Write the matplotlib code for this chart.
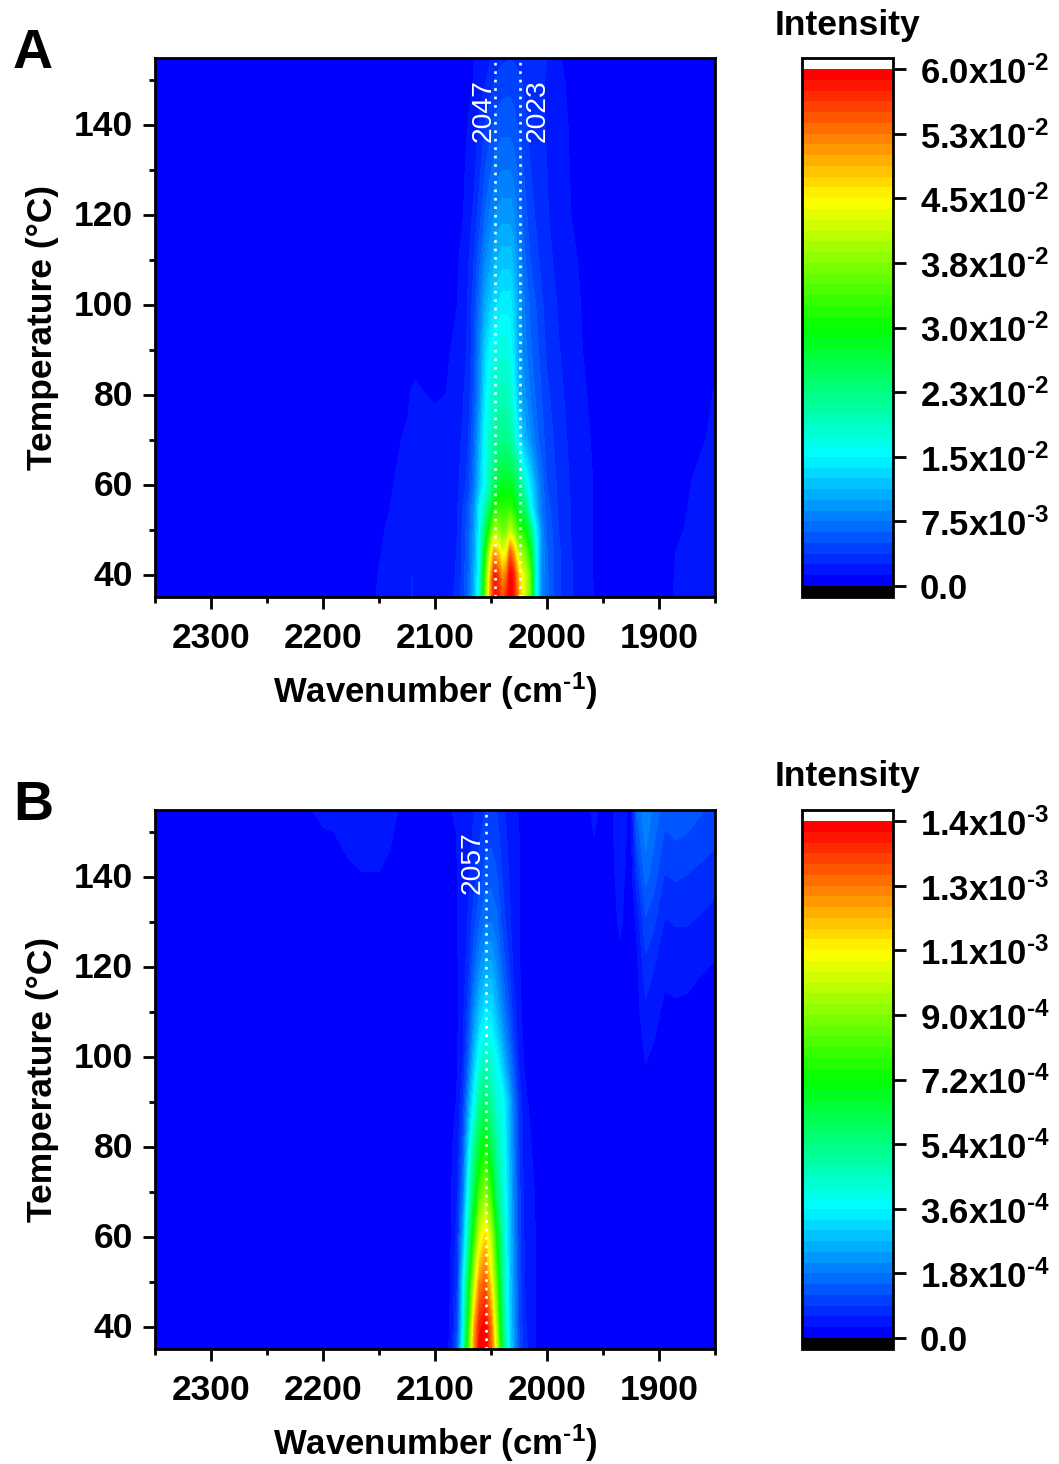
import numpy as np
import matplotlib
matplotlib.use("Agg")
import matplotlib.pyplot as plt
from matplotlib.colors import LinearSegmentedColormap, BoundaryNorm
from matplotlib.ticker import MultipleLocator, FixedLocator
from matplotlib.transforms import ScaledTranslation

plt.rcParams['font.family'] = ['Liberation Sans', 'DejaVu Sans']
plt.rcParams['font.weight'] = 'bold'
plt.rcParams['mathtext.fontset'] = 'custom'
plt.rcParams['mathtext.rm'] = 'Liberation Sans:bold'
plt.rcParams['mathtext.bf'] = 'Liberation Sans:bold'
plt.rcParams['mathtext.default'] = 'bf'

# ---------- panel A (intensity in units of 1e-3) ----------
wavenumber_a = [2350, 2160, 2150, 2140, 2130, 2124, 2120.5, 2117, 2110, 2100, 2090, 2080, 2075, 2070, 2065, 2060,
                2055, 2050, 2047, 2043, 2040, 2036, 2033, 2030, 2025, 2020, 2015, 2010, 2005, 2000, 1990, 1980,
                1970, 1960, 1950, 1900, 1885, 1870, 1850]
temperature_a = [35, 40, 45, 50, 55, 60, 70, 80, 90, 100, 110, 120, 130, 140, 150, 155]
intensity_a = [
    [.4, 1.1, 1.3, 1.5, 1.6, 1.7, 2.7, 1.7, 1.8, 2.0, 2.2, 2.7, 4.5, 7, 11, 18, 36, 52, 58, 57.5, 54, 57.5, 59.6, 58.5, 50, 43, 36, 16, 9, 6.5, 4, 2.8, 1.8, 1.3, .9, .9, 1.3, 1.6, 1.8],
    [.4, 1.0, 1.28, 1.45, 1.55, 1.6, 2.5, 1.6, 1.7, 1.9, 2.1, 2.6, 4.3, 6.5, 10.5, 17, 34, 50, 58, 55, 50, 53, 59.6, 58, 47, 42, 35, 16, 9, 6.5, 4, 2.8, 1.8, 1.3, .8, .8, 1.3, 1.5, 1.7],
    [.4, .9, 1.2, 1.4, 1.5, 1.55, 1.6, 1.6, 1.65, 1.8, 2, 2.55, 4.2, 6.3, 10, 16.5, 30, 44, 50, 47, 43, 45, 54, 50, 40, 37, 30, 15.5, 9, 6.3, 4, 2.7, 1.7, 1.3, .7, .7, 1.25, 1.45, 1.65],
    [.3, .8, 1.15, 1.35, 1.45, 1.5, 1.5, 1.5, 1.6, 1.75, 1.95, 2.5, 4, 6, 9.5, 15.5, 25, 34, 39, 38, 36, 37, 41, 38, 32, 30, 24, 15, 8.5, 6, 3.8, 2.6, 1.6, 1.3, .6, .6, 1.1, 1.4, 1.6],
    [.3, .7, 1.05, 1.25, 1.4, 1.4, 1.4, 1.4, 1.5, 1.7, 1.9, 2.4, 3.8, 5.7, 9, 15, 20, 26, 31, 32, 32, 32, 33, 31, 26, 24, 16, 11, 7.5, 5.5, 3.6, 2.6, 1.6, 1.3, .6, .5, 1, 1.35, 1.55],
    [.3, .6, 1, 1.2, 1.38, 1.35, 1.35, 1.35, 1.45, 1.65, 1.85, 2.3, 3, 4.5, 7.5, 12, 16.5, 21, 25, 27, 28, 28, 28, 27, 23, 18, 14, 10, 7, 5, 3.5, 2.5, 1.6, 1.3, .5, .5, .95, 1.28, 1.5],
    [.3, .5, .9, 1.1, 1.25, 1.3, 1.3, 1.3, 1.35, 1.5, 1.7, 2.1, 2.7, 3.8, 6.5, 11, 16, 19, 21, 22, 22, 22, 21, 19, 14, 11, 9, 7, 5.5, 4.5, 3.2, 2.3, 1.55, 1.2, .5, .4, .7, 1.1, 1.35],
    [.3, .4, .7, .95, 1.05, 1.2, 1.32, 1.4, 1.27, 1.18, 1.26, 1.9, 2.4, 3.2, 5.5, 9, 14.5, 17.5, 18.5, 19, 19.5, 19, 18, 16, 11, 9, 7.5, 6, 5, 4, 2.9, 2.1, 1.45, 1.1, .5, .3, .5, .8, 1.3],
    [.2, .3, .5, .7, .85, .9, .95, .95, .95, .95, 1.1, 1.5, 2.1, 2.7, 5, 8.5, 13, 15.5, 16.5, 17, 17, 17, 16, 14, 10, 8, 6.5, 5.5, 4.5, 3.5, 2.6, 1.9, 1.3, 1, .4, .3, .4, .6, 1.1],
    [.2, .2, .4, .6, .7, .75, .8, .8, .8, .8, .9, 1.25, 1.9, 2.7, 4.5, 7.5, 10.5, 12.5, 13.5, 14, 14.5, 14.5, 14.5, 13, 9.5, 7.5, 6, 5, 4, 3.2, 2.4, 1.7, 1.25, .9, .3, .2, .3, .4, .7],
    [.2, .2, .3, .5, .6, .6, .6, .6, .6, .7, .8, 1.1, 1.7, 2.4, 3.8, 6, 8.5, 10, 11, 11.5, 12, 12, 12, 11, 8.5, 6.5, 5, 4.2, 3.4, 2.8, 2.2, 1.5, 1.15, .8, .3, .2, .3, .4, .5],
    [.2, .2, .3, .4, .5, .5, .5, .5, .5, .6, .7, 1, 1.2, 1.8, 2.9, 4.5, 6.5, 8, 8.7, 9.2, 9.5, 9.5, 9.5, 9, 7, 5.5, 4.3, 3.6, 3, 2.6, 1.9, 1.3, .95, .6, .2, .2, .2, .3, .4],
    [.2, .2, .2, .3, .4, .4, .4, .4, .4, .5, .6, .9, 1.1, 1.5, 2.2, 3.5, 5, 6.2, 6.8, 7.2, 7.5, 7.5, 7.5, 7, 5.8, 4.8, 3.8, 3.2, 2.8, 2.5, 1.7, 1.25, .9, .5, .2, .2, .2, .2, .3],
    [.2, .2, .2, .3, .3, .3, .3, .3, .4, .4, .5, .8, 1, 1.3, 1.8, 2.8, 3.9, 4.8, 5.3, 5.6, 5.8, 5.8, 5.8, 5.5, 4.8, 4.1, 3.4, 3, 2.7, 2.4, 1.6, 1.2, .8, .4, .2, .2, .2, .2, .2],
    [.2, .2, .2, .2, .2, .2, .3, .3, .3, .3, .4, .7, .85, 1.0, 1.3, 1.9, 2.4, 3.2, 3.8, 4.2, 4.4, 4.5, 4.5, 4.4, 4, 3.5, 3.1, 2.8, 2.6, 2.4, 1.4, 1.15, .7, .4, .2, .2, .2, .2, .2],
    [.2, .2, .2, .2, .2, .2, .2, .2, .2, .3, .4, .6, .8, .95, 1.25, 1.7, 2, 2.5, 3, 3.3, 3.5, 3.6, 3.7, 3.6, 3.4, 3, 2.9, 2.7, 2.6, 2.5, 1.3, 1.1, .7, .3, .2, .2, .2, .2, .2],
]
levels_step_a = 1.25e-3
cbar_ticks_a = [0.0, 7.5e-3, 1.5e-2, 2.25e-2, 3.0e-2, 3.75e-2, 4.5e-2, 5.25e-2, 6.0e-2]
cbar_labels_a = ['0.0', '7.5x10$^{\u20103}$', '1.5x10$^{\u20102}$', '2.3x10$^{\u20102}$', '3.0x10$^{\u20102}$',
                 '3.8x10$^{\u20102}$', '4.5x10$^{\u20102}$', '5.3x10$^{\u20102}$', '6.0x10$^{\u20102}$']
line_pos_a = [2046.5, 2024]
line_labels_a = ['2047', '2023']
line_label_x_a = [2056.5, 2008]

# ---------- panel B (intensity in units of 1e-5) ----------
wavenumber_b = [2350, 2210, 2200, 2190, 2178, 2165, 2150, 2140, 2130, 2100, 2090,
                2085, 2080, 2075, 2070, 2065, 2060, 2055, 2050, 2045, 2040, 2035, 2030, 2025, 2020, 2010, 2000,
                1965, 1958, 1950, 1942, 1935, 1928, 1925, 1920, 1912, 1905, 1895, 1885, 1875, 1865, 1850]
temperature_b = [35, 40, 50, 60, 70, 80, 90, 100, 110, 120, 130, 140, 150, 155]
intensity_b = [
    [1, 1, 1, 1, 1, 1, 1, 1, 1, 1, 1.5, 5, 14, 40, 82, 122, 143, 143.5, 130, 100, 62, 38, 24, 13, 7, 3, 1.5, 1, 1, 1, 1, 1, 1, 1, 1, 1, 1, 1, 1, 1, 1, 1],
    [1, 1, 1, 1, 1, 1, 1, 1, 1, 1, 1.5, 4, 12, 36, 76, 118, 140, 143, 126, 94, 58, 36, 23, 12, 6.5, 3, 1.4, 1, 1, 1, 1, 1, 1, 1, 1, 1, 1, 1, 1, 1, 1, 1],
    [1, 1, 1, 1, 1, 1, 1, 1, 1, 1, 1.5, 3.5, 9, 33, 64, 98, 124, 130, 110, 82, 52, 34, 22, 11, 6, 3, 1.2, 1, 1, 1, 1, 1, 1, 1, 1, 1, 1, 1, 1, 1, 1, 1],
    [1, 1, 1, 1, 1, 1, 1, 1, 1, 1, 1.5, 3.2, 7.5, 24, 50, 78, 102, 112, 98, 70, 50, 33, 21, 10, 5.5, 2.9, 1, 1, 1, 1, 1, 1, 1, 1, 1, 1, 1, 1, 1, 1, 1, 1],
    [1, 1, 1, 1, 1, 1, 1, 1, 1, 1, 1.5, 3, 6, 17, 40, 62, 82, 90, 78, 56, 44, 32, 20, 10, 5, 2.7, .9, 1, 1, 1, 1, 1, 1, 1, 1, 1, 1, 1, 1, 1, 1, 1],
    [1, 1, 1, 1, 1, 1, 1, 1, 1, 1, 1.5, 2.8, 4.8, 13, 32, 52, 66, 72, 62, 50, 41, 30, 19, 9, 4.2, 2.2, .8, 1, 1, 1, 1, 1, 1, 1, 1, 1, 1, 1, 1, 1, 1, 1],
    [1, 1, 1, 1, 1, 1, 1, 1, 1, 1, 1.4, 2.4, 3.2, 9, 23, 38, 52, 58, 50, 42, 39, 29, 18, 8.5, 3.6, 1.5, .8, 1, 1, 1, 1, 1, 1, 1, 1, 1.5, 1, 1, 1, 1, 1, 1],
    [1, 1, 1, 1, 1, 1, 1, 1, 1, 1, 1.3, 2, 2.9, 6, 15, 28, 40, 45, 42, 36, 28, 20, 12, 5, 2.5, 1, .8, 1, 1, 1, 1, 1.2, 1, 1, 1.5, 3.2, 2.5, 1.2, 1.2, 1.2, 1, 1],
    [1, 1, 1, 1, 1, 1, 1, 1, 1, 1, 1.3, 1.8, 2.6, 5, 11, 21, 29, 34, 33, 27, 20, 14, 8, 3.6, 2.2, .8, .8, 1, 1, 1, 1, 1.4, 1, 1, 1.8, 5.2, 4.2, 2.2, 2.4, 2.3, 1.5, 1.5],
    [1, 1, 1, 1, 1, 1, 1, 1, 1, 1, 1.3, 1.8, 2.8, 4.2, 8, 15, 21, 25, 25, 21, 15, 10, 5.5, 3.2, 2, .7, .8, 1, 1, 1, 1.2, 1.9, 1.2, 1.2, 2, 8, 6.2, 3.9, 4.3, 4, 3.5, 2.7],
    [1, 1, 1, 1, 1, 1, 1, 1, 1, 1, 1.3, 1.9, 3, 4, 6.5, 11, 15, 18, 18, 16, 11, 7.5, 4.5, 3.1, 1.8, .6, .8, 1, 1.2, 1, 1.6, 3.6, 1.6, 1.4, 3.5, 11.4, 9.7, 5.7, 6.2, 6.2, 5.7, 4.5],
    [1, 1.5, 2, 2, 2.5, 2.9, 2.9, 2.5, 1.5, 1, 1.2, 2, 3, 3.8, 5.5, 8, 11, 13.5, 14, 12.5, 9, 6.5, 4, 3.1, 1.7, .6, .8, 1.2, 1.8, 1.2, 2, 4.5, 2, 1.5, 8, 15.9, 13.5, 8.7, 9.3, 8.8, 8.2, 7.3],
    [1, 2.6, 2.85, 3, 3.6, 3.7, 3.7, 3.3, 2.2, 1, 1.8, 2.5, 3.1, 3.6, 5, 6.5, 8.5, 10.5, 11, 10, 7.5, 5.5, 3.8, 3, 1.6, .6, .8, 1.6, 3.1, 1.6, 2.4, 5.5, 2.6, 1.6, 13, 19.5, 16, 11.8, 12.6, 12.1, 11, 10],
    [1, 3, 3.5, 3.6, 4, 4, 4, 3.5, 2.8, 1, 2.4, 3, 3.2, 3.5, 4.5, 5.8, 7.2, 9, 9.5, 9, 7, 5.2, 3.6, 2.9, 1.5, .6, .8, 1.8, 4, 1.8, 2.5, 6, 2.8, 1.7, 15, 21, 17, 13.5, 14, 13.5, 12.6, 11],
]
levels_step_b = 3e-5
cbar_ticks_b = [0.0, 1.8e-4, 3.6e-4, 5.4e-4, 7.2e-4, 9.0e-4, 1.08e-3, 1.26e-3, 1.44e-3]
cbar_labels_b = ['0.0', '1.8x10$^{\u20104}$', '3.6x10$^{\u20104}$', '5.4x10$^{\u20104}$', '7.2x10$^{\u20104}$',
                 '9.0x10$^{\u20104}$', '1.1x10$^{\u20103}$', '1.3x10$^{\u20103}$', '1.4x10$^{\u20103}$']
line_pos_b = [2054.6]
line_labels_b = ['2057']
line_label_x_b = [2066.5]

n_levels = 48
W, H = 1059, 1464
LW = 2.0
FS = 25.5

cmap = LinearSegmentedColormap.from_list(
    'origin_rainbow', ['#0000ff', '#00ffff', '#00ff00', '#ffff00', '#ff0000'], N=n_levels)
cmap.set_under('black')
cmap.set_over('white')


def box(x0, y0, x1, y1):
    return [x0 / W, 1 - y1 / H, (x1 - x0) / W, (y1 - y0) / H]


def panel(top, letter, wn, temp, values, scale, step, ticks, labels, lines, line_labels, line_label_x):
    bottom = top + 539
    ax = fig.add_axes(box(155, top, 715, bottom))
    z = np.array(values, dtype=float) * scale
    lv = np.arange(n_levels + 1) * step
    norm = BoundaryNorm(lv, n_levels)
    cs = ax.contourf(wn, temp, z, levels=lv, cmap=cmap, norm=norm, extend='both')
    ax.set_xlim(2350, 1850)
    ax.set_ylim(35, 155)
    ax.xaxis.set_major_locator(MultipleLocator(100))
    ax.xaxis.set_minor_locator(MultipleLocator(50))
    ax.yaxis.set_major_locator(FixedLocator([40, 60, 80, 100, 120, 140]))
    ax.yaxis.set_minor_locator(FixedLocator([50, 70, 90, 110, 130, 150]))
    ax.tick_params(which='major', direction='out', length=8.6, width=LW, labelsize=FS, pad=7)
    ax.tick_params(axis='x', which='major', pad=9.2)
    ax.tick_params(which='minor', direction='out', length=4.6, width=LW)
    for s in ax.spines.values():
        s.set_linewidth(LW)
    ax.set_xlabel('Wavenumber (cm$^{\u20101}$)', fontsize=25, fontweight='bold', labelpad=11.5)
    ax.set_ylabel('Temperature (°C)', fontsize=FS, fontweight='bold')
    ax.yaxis.set_label_coords(-0.171, 0.5)
    up2 = ScaledTranslation(0, 2 / 100, fig.dpi_scale_trans)
    for lab in ax.get_yticklabels():
        lab.set_transform(lab.get_transform() + up2)
    for p, t, tx in zip(lines, line_labels, line_label_x):
        ax.axvline(p, color='white', lw=1.9, linestyle=(0, (1.0, 2.2)))
        ax.text(tx, 143.3, t, color='white', rotation=90, ha='center', va='center',
                fontsize=20.3, fontweight='normal')
    fig.text(13 / W, 1 - (top - 10) / H, letter, fontsize=40, fontweight='bold', ha='left', va='center_baseline')

    cax = fig.add_axes(box(802, top, 893, bottom))
    cb = fig.colorbar(cs, cax=cax, extend='both', extendrect=True, extendfrac=11 / 518,
                      spacing='proportional', drawedges=False)
    cb.set_ticks(ticks)
    cb.set_ticklabels(labels)
    cb.minorticks_off()
    cax.tick_params(which='major', direction='out', length=9.4, width=LW, labelsize=25, pad=10)
    cb.outline.set_linewidth(LW)
    down1 = ScaledTranslation(0, -1 / 100, fig.dpi_scale_trans)
    for lab in cax.get_yticklabels():
        if '$' in lab.get_text():
            lab.set_transform(lab.get_transform() + down1)
    fig.text(775 / W, 1 - (top - 33) / H, 'Intensity', fontsize=FS, fontweight='bold', ha='left', va='center')


fig = plt.figure(figsize=(W / 100, H / 100), dpi=100)
panel(58, 'A', wavenumber_a, temperature_a, intensity_a, 1e-3, levels_step_a,
      cbar_ticks_a, cbar_labels_a, line_pos_a, line_labels_a, line_label_x_a)
panel(810, 'B', wavenumber_b, temperature_b, intensity_b, 1e-5, levels_step_b,
      cbar_ticks_b, cbar_labels_b, line_pos_b, line_labels_b, line_label_x_b)
fig.savefig('out.png', dpi=100)
